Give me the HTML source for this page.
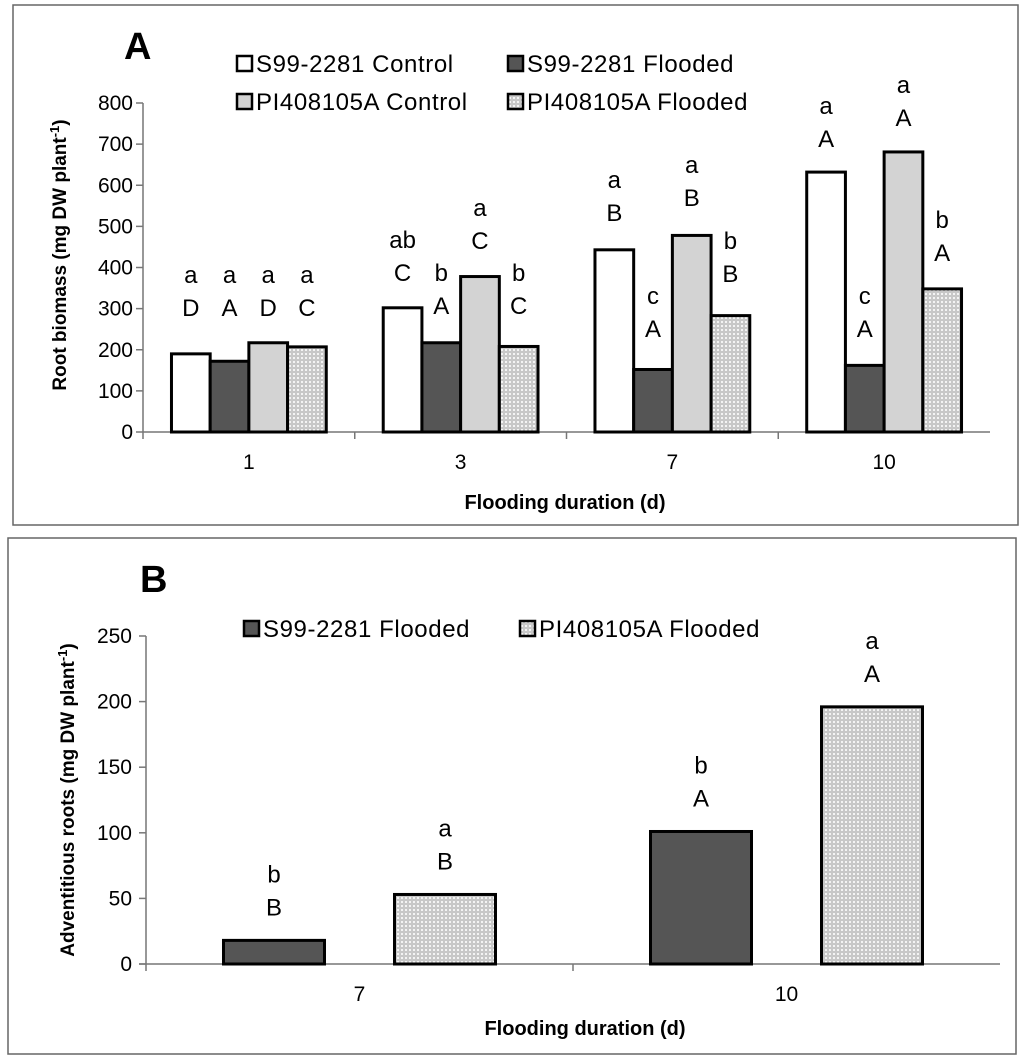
<!DOCTYPE html>
<html><head><meta charset="utf-8"><style>
body{margin:0;background:#fff}
svg{display:block;font-family:"Liberation Sans",Arial,sans-serif}
</style></head><body>
<svg id="s" width="1024" height="1062" xmlns="http://www.w3.org/2000/svg">
<defs>
<pattern id="dots" width="4" height="4" patternUnits="userSpaceOnUse">
<rect width="4" height="4" fill="#c8c8c8"/><rect x="1" y="1" width="2" height="2" fill="#f4f4f4"/>
</pattern>
</defs>
<rect x="13" y="5" width="1005" height="520" fill="#fff" stroke="#666" stroke-width="1.5"/>
<rect x="8" y="538" width="1008" height="516" fill="#fff" stroke="#666" stroke-width="1.5"/>
<text x="124" y="59" font-size="38" font-weight="bold">A</text>
<text x="140" y="592" font-size="38" font-weight="bold">B</text>
<g id="ga"></g><g id="gb"></g>
</svg>
<script>
const catsA=["1","3","7","10"];
const seriesNamesA=["S99-2281 Control","S99-2281 Flooded","PI408105A Control","PI408105A Flooded"];
const s99Control=[190,302,443,632];
const s99Flooded=[172,217,152,162];
const piControl=[217,378,478,681];
const piFlooded=[207,208,283,348];
const lettersLowerA=[["D","A","D","C"],["C","A","C","C"],["B","A","B","B"],["A","A","A","A"]];
const lettersUpperA=[["a","a","a","a"],["ab","b","a","b"],["a","c","a","b"],["a","c","a","b"]];
const labelPosA=[[304,304,304,304],[389,309,467,309],[535,253,572,387],[715,253,766,438]];
const ticksA=[0,100,200,300,400,500,600,700,800];

const catsB=["7","10"];
const seriesNamesB=["S99-2281 Flooded","PI408105A Flooded"];
const s99FloodedB=[18,101];
const piFloodedB=[53,196];
const lettersLowerB=[["B","B"],["A","A"]];
const lettersUpperB=[["b","a"],["b","a"]];
const ticksB=[0,50,100,150,200,250];

const NS="http://www.w3.org/2000/svg";
function mk(p,t,a,txt){const e=document.createElementNS(NS,t);for(const k in a)e.setAttribute(k,a[k]);if(txt!==undefined)e.textContent=txt;p.appendChild(e);return e;}
const fills=["#fff","#555","#d3d3d3","url(#dots)"];

// Panel A
const ga=document.getElementById('ga');
const A={x0:143,x1:990,y0:432,y1:103,max:800};
const yA=v=>A.y0-(v/A.max)*(A.y0-A.y1);
const gwA=(A.x1-A.x0)/catsA.length;
const bwA=38.7;
let e=mk(ga,'line',{x1:A.x0,y1:A.y0,x2:A.x1,y2:A.y0,stroke:'#777','stroke-width':1.5});

e=mk(ga,'line',{x1:A.x0,y1:A.y1,x2:A.x0,y2:A.y0+7,stroke:'#777','stroke-width':1.5});

ticksA.forEach(t=>{mk(ga,'line',{x1:A.x0-7,y1:yA(t),x2:A.x0,y2:yA(t),stroke:'#777','stroke-width':1.5});
 e=mk(ga,'text',{x:A.x0-10,y:yA(t)+7,'font-size':21,'text-anchor':'end'},String(t));
 });
for(let i=1;i<catsA.length;i++)mk(ga,'line',{x1:A.x0+gwA*i,y1:A.y0,x2:A.x0+gwA*i,y2:A.y0+7,stroke:'#777','stroke-width':1.5});
const dataA=[s99Control,s99Flooded,piControl,piFlooded];
catsA.forEach((c,i)=>{const cx=A.x0+gwA*(i+0.5);
 e=mk(ga,'text',{x:cx,y:A.y0+37,'font-size':21,'text-anchor':'middle'},c);
 
 dataA.forEach((s,j)=>{const x=cx-2*bwA+j*bwA;
  e=mk(ga,'rect',{x:x,y:yA(s[i]),width:bwA,height:A.y0-yA(s[i]),fill:fills[j],stroke:'#000','stroke-width':3});
  
  const ly=yA(labelPosA[i][j]);
  e=mk(ga,'text',{x:x+bwA/2,y:ly+9,'font-size':24,'text-anchor':'middle'},lettersLowerA[i][j]);
  
  e=mk(ga,'text',{x:x+bwA/2,y:ly-24,'font-size':24,'text-anchor':'middle'},lettersUpperA[i][j]);
  
 });});
e=mk(ga,'text',{x:565,y:509,'font-size':20,'font-weight':'bold','text-anchor':'middle'},'Flooding duration (d)');

e=mk(ga,'text',{transform:'translate(66,255) rotate(-90)','font-size':19,'font-weight':'bold','text-anchor':'middle'});

e.innerHTML='Root biomass (mg DW plant<tspan dy="-7" font-size="13">-1</tspan><tspan dy="7">)</tspan>';
const legPosA=[[237,72],[508,72],[237,110],[508,110]];
seriesNamesA.forEach((n,j)=>{const [lx,ly]=legPosA[j];
 e=mk(ga,'rect',{x:lx,y:ly-16,width:15,height:15,fill:fills[j],stroke:'#000','stroke-width':2.5});
 
 e=mk(ga,'text',{x:lx+19,y:ly,'font-size':24,'letter-spacing':0.6},n);
 });

// Panel B
const gb=document.getElementById('gb');
const B={x0:146,x1:1000,y0:964,y1:636,max:250};
const yB=v=>B.y0-(v/B.max)*(B.y0-B.y1);
const gwB=(B.x1-B.x0)/catsB.length;
const bwB=101;
e=mk(gb,'line',{x1:B.x0-7,y1:B.y0,x2:B.x1,y2:B.y0,stroke:'#777','stroke-width':1.5});

e=mk(gb,'line',{x1:B.x0,y1:B.y1,x2:B.x0,y2:B.y0+7,stroke:'#777','stroke-width':1.5});

ticksB.forEach(t=>{mk(gb,'line',{x1:B.x0-7,y1:yB(t),x2:B.x0,y2:yB(t),stroke:'#777','stroke-width':1.5});
 e=mk(gb,'text',{x:B.x0-14,y:yB(t)+7,'font-size':21,'text-anchor':'end'},String(t));
 });
mk(gb,'line',{x1:B.x0+gwB,y1:B.y0,x2:B.x0+gwB,y2:B.y0+7,stroke:'#777','stroke-width':1.5});
const dataB=[s99FloodedB,piFloodedB];const fillsB=["#555","url(#dots)"];
catsB.forEach((c,i)=>{const cx=B.x0+gwB*(i+0.5);
 e=mk(gb,'text',{x:cx,y:B.y0+37,'font-size':21,'text-anchor':'middle'},c);
 
 dataB.forEach((s,j)=>{const x=cx-bwB-35+j*(bwB+70);
  e=mk(gb,'rect',{x:x,y:yB(s[i]),width:bwB,height:B.y0-yB(s[i]),fill:fillsB[j],stroke:'#000','stroke-width':3});
  
  const top=yB(s[i]);
  e=mk(gb,'text',{x:x+bwB/2,y:top-25,'font-size':24,'text-anchor':'middle'},lettersLowerB[i][j]);
  
  e=mk(gb,'text',{x:x+bwB/2,y:top-58,'font-size':24,'text-anchor':'middle'},lettersUpperB[i][j]);
  
 });});
e=mk(gb,'text',{x:585,y:1035,'font-size':20,'font-weight':'bold','text-anchor':'middle'},'Flooding duration (d)');

e=mk(gb,'text',{transform:'translate(74,800) rotate(-90)','font-size':19,'font-weight':'bold','text-anchor':'middle'});

e.innerHTML='Adventitious roots (mg DW plant<tspan dy="-7" font-size="13">-1</tspan><tspan dy="7">)</tspan>';
const legPosB=[[244,637],[520,637]];
seriesNamesB.forEach((n,j)=>{const [lx,ly]=legPosB[j];
 e=mk(gb,'rect',{x:lx,y:ly-16,width:15,height:15,fill:fillsB[j],stroke:'#000','stroke-width':2.5});
 
 e=mk(gb,'text',{x:lx+19,y:ly,'font-size':24,'letter-spacing':0.6},n);
 });
</script>
</body></html>
